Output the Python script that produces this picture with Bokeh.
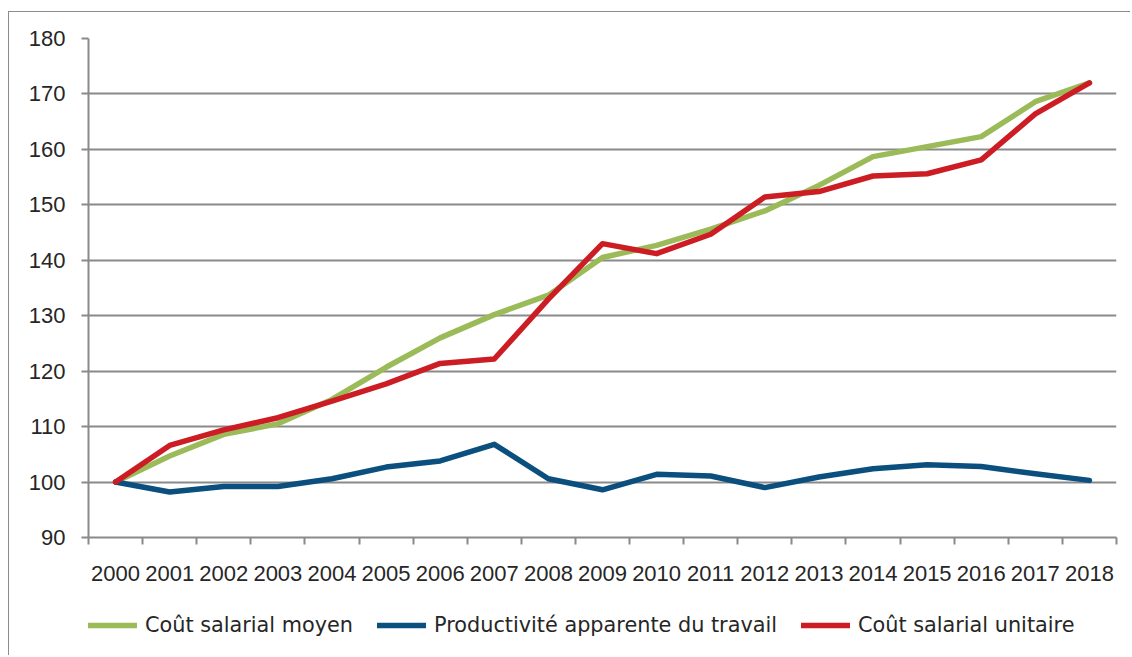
from bokeh.plotting import figure
from bokeh.layouts import column
from bokeh.models import FixedTicker, Legend, LegendItem
from bokeh.embed import file_html
from bokeh.resources import INLINE

years = ["2000", "2001", "2002", "2003", "2004", "2005", "2006", "2007", "2008", "2009",
         "2010", "2011", "2012", "2013", "2014", "2015", "2016", "2017", "2018"]
cout_salarial_moyen = [100, 104.7, 108.6, 110.5, 114.9, 120.7, 126.0, 130.2, 133.7, 140.5,
                       142.7, 145.6, 148.9, 153.5, 158.7, 160.5, 162.3, 168.6, 172.0]
productivite = [100, 98.2, 99.2, 99.2, 100.6, 102.7, 103.8, 106.8, 100.6, 98.6,
                101.4, 101.1, 99.0, 100.9, 102.4, 103.1, 102.8, 101.5, 100.3]
cout_salarial_unitaire = [100, 106.6, 109.4, 111.6, 114.6, 117.7, 121.4, 122.2, 133.0, 143.0,
                          141.2, 144.7, 151.4, 152.4, 155.2, 155.6, 158.1, 166.4, 172.0]
series_names = ["Coût salarial moyen", "Productivité apparente du travail", "Coût salarial unitaire"]
series_colors = ["#9bbb59", "#0b4f7f", "#cc1d24"]
y_ticks = [90, 100, 110, 120, 130, 140, 150, 160, 170, 180]

x = list(range(len(years)))
GRID = "#8a8a8a"
TXT = "#262626"

p = figure(width=1121, height=585, output_backend="svg", toolbar_location=None,
           x_range=(-0.5, len(years) - 0.5), y_range=(90, 180),
           min_border_left=79, min_border_right=14, min_border_top=26, min_border_bottom=60)
p.outline_line_color = None
p.background_fill_color = "white"

# y axis
p.yaxis.ticker = FixedTicker(ticks=y_ticks, minor_ticks=[])
p.yaxis.axis_line_color = GRID
p.yaxis.axis_line_width = 2
p.yaxis.major_tick_line_color = GRID
p.yaxis.major_tick_line_width = 2
p.yaxis.major_tick_out = 7
p.yaxis.major_tick_in = 0
p.yaxis.minor_tick_line_color = None
p.yaxis.major_label_text_font = "Liberation Sans"
p.yaxis.major_label_text_font_size = "22px"
p.yaxis.major_label_text_color = TXT
p.yaxis.major_label_standoff = 16

# x axis: labels at category centres, ticks between categories
p.xaxis.ticker = FixedTicker(ticks=x, minor_ticks=[i - 0.5 for i in range(len(years) + 1)])
p.xaxis.major_label_overrides = {i: y for i, y in enumerate(years)}
p.xaxis.axis_line_color = GRID
p.xaxis.axis_line_width = 2
p.xaxis.major_tick_line_color = None
p.xaxis.major_tick_out = 0
p.xaxis.major_tick_in = 0
p.xaxis.minor_tick_line_color = GRID
p.xaxis.minor_tick_line_width = 2
p.xaxis.minor_tick_out = 7
p.xaxis.minor_tick_in = 0
p.xaxis.major_label_text_font = "Liberation Sans"
p.xaxis.major_label_text_font_size = "22px"
p.xaxis.major_label_text_color = TXT
p.xaxis.major_label_standoff = 21

p.xgrid.grid_line_color = None
p.ygrid.ticker = FixedTicker(ticks=y_ticks)
p.ygrid.grid_line_color = GRID
p.ygrid.grid_line_width = 2

for vals, col in zip([cout_salarial_moyen, productivite, cout_salarial_unitaire], series_colors):
    p.line(x, vals, line_color=col, line_width=5.5, line_join="round", line_cap="round")

# legend in its own strip below the chart (frame is aligned with the chart's frame)
lg = figure(width=1121, height=58, output_backend="svg", toolbar_location=None,
            x_range=(0, 1), y_range=(0, 1), min_border=0,
            x_axis_location=None, y_axis_location=None)
lg.grid.visible = False
lg.outline_line_color = None
items = []
for name, col in zip(series_names, series_colors):
    # off-range sample so the legend swatch is drawn; nothing appears in the strip
    r = lg.line([-5, -4], [-5, -5], line_color=col, line_width=5.5, line_cap="round")
    items.append(LegendItem(label=name, renderers=[r]))
legend = Legend(items=items, orientation="horizontal", location=(0, 18),
                glyph_width=49, glyph_height=20, label_height=20, label_standoff=8,
                spacing=24, padding=0, margin=0,
                border_line_color=None, background_fill_alpha=0,
                label_text_font="DejaVu Sans", label_text_font_size="20.8px",
                label_text_color=TXT)
lg.add_layout(legend, "center")

page = column(p, lg, spacing=0,
              styles={"margin-left": "8px", "margin-top": "11px",
                      "border-top": "1px solid #8c8c8c", "border-left": "1px solid #8c8c8c"})

open("out.html", "w").write(file_html(page, INLINE))
